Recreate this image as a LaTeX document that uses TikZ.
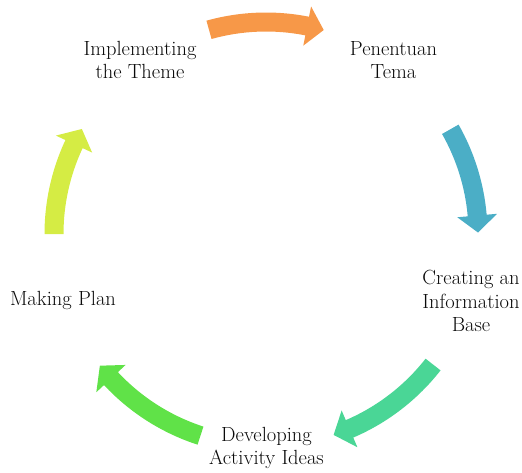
\documentclass[tikz,border=0pt]{standalone}
\definecolor{cOrange}{RGB}{247,152,72}
\definecolor{cBlue}{RGB}{75,174,198}
\definecolor{cTeal}{RGB}{74,214,150}
\definecolor{cGreen}{RGB}{96,226,72}
\definecolor{cYellow}{RGB}{213,236,68}
\definecolor{cText}{RGB}{10,10,10}
\newcommand{\cycarrow}[3]{% color, start angle, tip angle (screen, clockwise)
  \pgfmathsetmacro{\hb}{#3-4.6}
  \fill[#1] (#2:221.5) arc[start angle=#2, end angle=\hb, radius=221.5]
    -- (\hb:232) -- (#3:212) -- (\hb:192) -- (\hb:202.5)
    arc[start angle=\hb, end angle=#2, radius=202.5] -- cycle;}
\begin{document}
\begin{tikzpicture}[x=1pt,y=-1pt,
  lbl/.style={align=center, text=cText, font=\fontsize{20.5}{23.5}\selectfont, inner sep=0pt}]
\useasboundingbox (0,0) rectangle (522,472);
\node[lbl] (pen) at (393.5,60) {Penentuan\\Tema};
\node[lbl] (cre) at (471,301) {Creating an\\Information\\Base};
\node[lbl] (dev) at (266.5,448) {Developing\\Activity Ideas};
\node[lbl] (mak) at (63,300) {Making Plan};
\node[lbl] (imp) at (140,60) {Implementing\\the Theme};
\begin{scope}[shift={(266,234)}]
\cycarrow{cOrange}{-105.6}{-74.2}
\cycarrow{cBlue}{-29.6}{-0.4}
\cycarrow{cTeal}{38}{71.4}
\cycarrow{cGreen}{108}{141.6}
\cycarrow{cYellow}{180}{209.7}
\end{scope}
\end{tikzpicture}
\end{document}
